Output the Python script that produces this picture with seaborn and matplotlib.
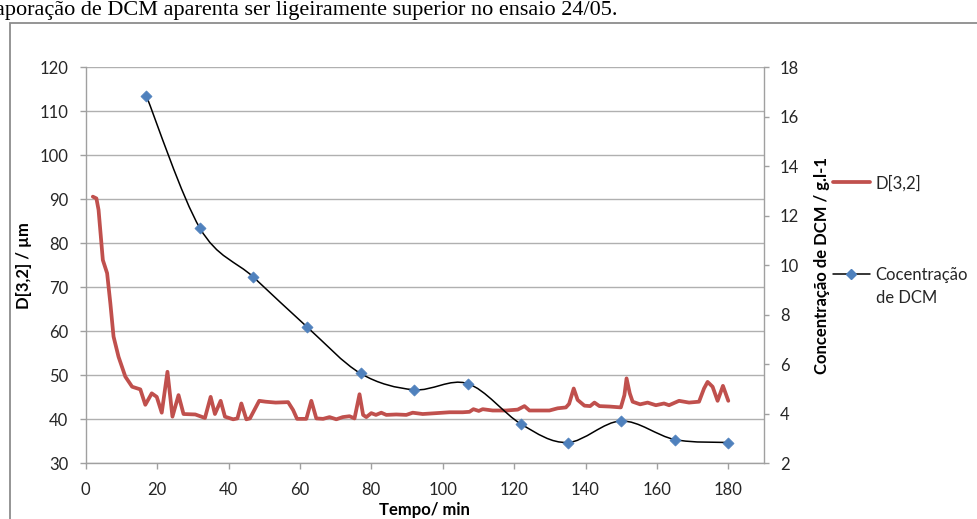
import numpy as np
import matplotlib
matplotlib.use("Agg")
import matplotlib.pyplot as plt
from matplotlib.path import Path
from matplotlib.patches import PathPatch, Rectangle
from matplotlib.lines import Line2D
import seaborn as sns

# D[3,2] particle size over time (left axis)
tempo_d32 = [2, 3, 3.6, 4.8, 6, 6.9, 7.8, 9.2, 11.1, 13, 15.3, 16.7, 18.5, 19.9,
             21.3, 22.9, 24.3, 26, 27.4, 30.7, 33.4, 35, 36.2, 37.8, 39, 41.3,
             42.5, 43.6, 45, 46, 48.6, 50.4, 53.2, 56.7, 58.1, 59.2, 61.8, 63.2,
             64.6, 66.5, 68.3, 70.2, 72, 73.9, 75.3, 76.7, 77.7, 78.6, 80, 81.3,
             82.8, 84.2, 87, 89.8, 91.6, 94.4, 98.2, 101.9, 105.6, 107.5, 108.6,
             110.1, 111.2, 114, 117.8, 121, 122.9, 124.3, 127.1, 129.9, 132.2,
             134.5, 135.4, 136.7, 137.8, 139.7, 141.3, 142.5, 143.9, 146.7, 149.9,
             150.9, 151.5, 152.4, 153.2, 155.3, 157.4, 159.7, 162, 163.4, 166.2,
             169, 171.8, 173.2, 174.2, 175.6, 177, 178.5, 180]
d32 = [90.6, 90.2, 87.6, 76.2, 73.2, 66.4, 58.8, 54.2, 49.7, 47.4, 46.8, 43.3,
       45.9, 45.1, 41.5, 50.8, 40.6, 45.5, 41.2, 41.1, 40.3, 45.1, 41.2, 44.2,
       40.6, 40.0, 40.2, 43.6, 40.0, 40.2, 44.2, 44.0, 43.8, 43.9, 42.1, 40.1,
       40.1, 44.2, 40.2, 40.1, 40.5, 40.0, 40.5, 40.7, 40.2, 45.7, 41.0, 40.5,
       41.4, 41.0, 41.5, 41.0, 41.1, 41.0, 41.5, 41.2, 41.4, 41.6, 41.6, 41.7,
       42.3, 41.9, 42.3, 42.0, 42.0, 42.2, 43.0, 42.0, 42.0, 42.0, 42.5, 42.7,
       43.5, 47.0, 44.4, 43.1, 43.0, 43.8, 43.0, 42.9, 42.7, 45.5, 49.3, 45.9,
       44.0, 43.4, 43.8, 43.2, 43.6, 43.2, 44.2, 43.8, 44.0, 47.0, 48.5, 47.4,
       44.2, 47.6, 44.2]

# DCM concentration over time (right axis)
tempo_dcm = [17, 32, 47, 62, 77, 92, 107, 122, 135, 150, 165, 180]
dcm = [16.84, 11.5, 9.52, 7.51, 5.63, 4.97, 5.22, 3.58, 2.84, 3.71, 2.96, 2.84]

x_ticks = list(range(0, 181, 20))
y_left_ticks = list(range(30, 121, 10))
y_right_ticks = list(range(2, 19, 2))

RED = "#C0504D"
BLUE = "#4F81BD"
GRAY = "#A0A0A0"
TXT = "#262626"
FS = 12

sns.set_theme(style="white")
plt.rcParams['font.family'] = ['Lato', 'DejaVu Sans']


def smooth_path(xs, ys):
    """Bezier path through the points (Catmull-Rom style control points)."""
    p = np.column_stack([xs, ys]).astype(float)
    ext = np.vstack([p[0], p, p[-1]])
    verts = [p[0]]
    codes = [Path.MOVETO]
    for i in range(len(p) - 1):
        p0, p1, p2, p3 = ext[i], ext[i + 1], ext[i + 2], ext[i + 3]
        verts += [p1 + (p2 - p0) / 6, p2 - (p3 - p1) / 6, p2]
        codes += [Path.CURVE4] * 3
    return Path(verts, codes)


W, H = 977, 519
fig = plt.figure(figsize=(W / 100, H / 100), dpi=100)
ax = fig.add_axes([85.7 / W, 1 - 463.3 / H, (764 - 85.7) / W, (463.3 - 67.3) / H])
ax2 = ax.twinx()

# Left axis: D[3,2]
sns.lineplot(x=tempo_d32, y=d32, ax=ax, color=RED, linewidth=2.7,
             sort=False, estimator=None, legend=False)
for ln in ax.lines:
    ln.set_solid_joinstyle('round')
    ln.set_solid_capstyle('round')

# Right axis: smoothed concentration curve with diamond markers
ax2.add_patch(PathPatch(smooth_path(tempo_dcm, dcm), facecolor='none',
                        edgecolor='black', lw=1.1, zorder=2))
sns.scatterplot(x=tempo_dcm, y=dcm, ax=ax2, marker='D', s=32, color=BLUE,
                edgecolor=BLUE, linewidth=0.5, zorder=3, legend=False)

ax.set_xlim(0, 190)
ax.set_ylim(30, 120)
ax2.set_ylim(2, 18)
ax.set_xticks(x_ticks)
ax.set_yticks(y_left_ticks)
ax2.set_yticks(y_right_ticks)

ax.yaxis.grid(True, color="#B0B0B0", lw=1)
ax.xaxis.grid(False)
ax2.grid(False)
ax.set_axisbelow(True)

for s in ['top', 'right']:
    ax.spines[s].set_visible(False)
for s in ['top', 'left', 'bottom']:
    ax2.spines[s].set_visible(False)
for s in ['left', 'bottom']:
    ax.spines[s].set_color(GRAY)
    ax.spines[s].set_linewidth(1)
ax2.spines['right'].set_color(GRAY)
ax2.spines['right'].set_linewidth(1)

ax.tick_params(axis='x', bottom=True, direction='out', length=4.3, width=1,
               color=GRAY, labelsize=FS, labelcolor=TXT, pad=9)
ax.tick_params(axis='y', left=True, direction='out', length=4.3, width=1,
               color=GRAY, labelsize=FS, labelcolor=TXT, pad=8.4)
ax2.tick_params(axis='y', right=True, direction='out', length=3.5, width=1,
                color=GRAY, labelsize=FS, labelcolor=TXT, pad=8)

ax.set_xlabel('Tempo/ min', fontweight='bold', fontsize=FS, color='black')
ax.xaxis.set_label_coords(0.5, -0.097)
ax.set_ylabel('D[3,2] / µm', fontweight='bold', fontsize=FS, color='black')
ax.yaxis.set_label_coords(-0.079, 0.5)
ax2.set_ylabel('Concentração de DCM / g.l-1', fontweight='bold', fontsize=FS,
               color='black')
ax2.yaxis.set_label_coords(1.0735, 0.5)

# Legend on the right
fig.legend(handles=[Line2D([], [], color=RED, lw=2.7)], labels=['D[3,2]'],
           loc='center left', bbox_to_anchor=(833 / W, 1 - 183 / H),
           frameon=False, borderpad=0, borderaxespad=0, handlelength=2.2,
           handletextpad=0.35, fontsize=FS)
fig.legend(handles=[Line2D([], [], color='black', lw=1.1, marker='D',
                           markersize=5.5, markerfacecolor=BLUE,
                           markeredgecolor=BLUE)],
           labels=['Cocentração'],
           loc='center left', bbox_to_anchor=(833 / W, 1 - 275 / H),
           frameon=False, borderpad=0, borderaxespad=0, handlelength=2.2,
           handletextpad=0.35, fontsize=FS)
fig.text(876 / W, 1 - 298 / H, 'de DCM', va='center', ha='left',
         fontsize=FS, color=TXT)

# Chart frame and surrounding document text
fig.add_artist(Rectangle((10 / W, -0.1), 1.2, (H - 23) / H + 0.1,
                         transform=fig.transFigure, fill=False,
                         edgecolor='#8C8C8C', lw=1.3, clip_on=False))
fig.text(618 / W, 1 - 15 / H,
         'evaporação de DCM aparenta ser ligeiramente superior no ensaio 24/05.',
         ha='right', va='baseline', family=['Liberation Serif', 'DejaVu Serif'],
         fontsize=16, color='black')

fig.savefig('out.png', dpi=100)
